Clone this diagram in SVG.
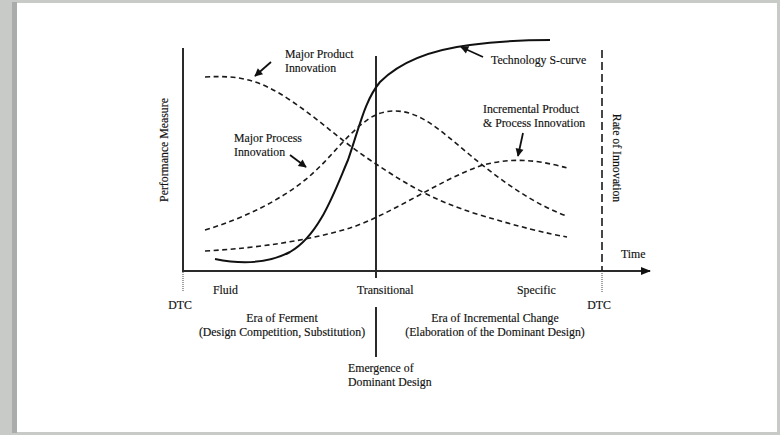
<svg xmlns="http://www.w3.org/2000/svg" width="780" height="435" viewBox="0 0 780 435">
<defs>
<marker id="ah" viewBox="0 0 10 10" refX="9" refY="5" markerWidth="8" markerHeight="8" orient="auto" markerUnits="userSpaceOnUse" overflow="visible">
<path d="M0,0 L10,5 L0,10 z" fill="#111"/>
</marker>
<marker id="axh" viewBox="0 0 10 10" refX="9" refY="5" markerWidth="10" markerHeight="10" orient="auto" markerUnits="userSpaceOnUse">
<path d="M0,1 L10,5 L0,9 z" fill="#111"/>
</marker>
<style>
text{font-family:"Liberation Serif","Times New Roman",serif;font-size:11.8px;fill:#111;stroke:#111;stroke-width:0.15}
.axis{stroke:#2a2a2a;stroke-width:2;fill:none}
.dash{stroke:#1a1a1a;stroke-width:1.6;fill:none;stroke-dasharray:5 3.5}
.dot{stroke:#444;stroke-width:1;fill:none;stroke-dasharray:1 1}
.ptr{stroke:#111;stroke-width:1.8;fill:none}
</style>
</defs>
<rect x="0" y="0" width="780" height="435" fill="#c8cac8"/>
<rect x="12" y="2" width="5" height="431" fill="#a9acaa"/>
<rect x="17" y="3" width="760" height="429" fill="#ffffff"/>

<g id="connectors">
<line class="axis" x1="183" y1="48" x2="183" y2="272"/>
<line class="axis" x1="182" y1="271" x2="650" y2="271" marker-end="url(#axh)"/>
<line class="dot" x1="183" y1="272" x2="183" y2="292"/>
<line class="axis" x1="376" y1="56" x2="376" y2="278" stroke-width="1.8"/>
<line class="axis" x1="376" y1="307" x2="376" y2="357" stroke-width="1.8"/>
<line x1="602" y1="50" x2="602" y2="271" stroke="#1a1a1a" stroke-width="1.6" stroke-dasharray="8 4"/>
<line class="dot" x1="602" y1="271" x2="602" y2="292"/>
<path id="scurve" d="M215,259 C235,263 265,265 290,252 C320,235 335,190 348,160 C360,125 365,100 380,82 C400,62 430,50 470,45 C500,41 530,40 550,40" fill="none" stroke="#111" stroke-width="2"/>
<path id="product" class="dash" d="M205,77 C240,75 260,80 290,100 C320,120 340,140 370,160 C400,180 430,200 480,215 C520,227 545,233 567,237"/>
<path id="process" class="dash" d="M205,230 C245,218 280,200 305,180 C330,160 345,135 370,118 C380,112 388,111 395,111 C420,111 440,130 470,155 C500,180 535,205 567,216"/>
<path id="incremental" class="dash" d="M205,251 C260,248 310,240 350,228 C390,215 440,180 480,166 C500,160 520,159 540,162 C552,164 560,166 567,168"/>
<line class="ptr" x1="271" y1="62" x2="255" y2="76" marker-end="url(#ah)"/>
<line class="ptr" x1="290" y1="155" x2="306" y2="167" marker-end="url(#ah)"/>
<line class="ptr" x1="483" y1="57" x2="461" y2="47" marker-end="url(#ah)"/>
<line class="ptr" x1="523" y1="133" x2="518" y2="156" marker-end="url(#ah)"/>
</g>

<g id="label-product"><text x="285" y="58">Major Product</text><text x="285" y="72">Innovation</text></g>
<g id="label-process"><text x="234" y="142">Major Process</text><text x="234" y="156">Innovation</text></g>
<g id="label-scurve"><text x="491" y="64">Technology S-curve</text></g>
<g id="label-incremental"><text x="483" y="113">Incremental Product</text><text x="483" y="127">&amp; Process Innovation</text></g>
<g id="label-y"><text transform="translate(168,150) rotate(-90)" text-anchor="middle">Performance Measure</text></g>
<g id="label-rate"><text transform="translate(613,158) rotate(90)" text-anchor="middle">Rate of Innovation</text></g>
<g id="label-time"><text x="621" y="258">Time</text></g>
<g id="label-fluid"><text x="213" y="294">Fluid</text></g>
<g id="label-transitional"><text x="357" y="294">Transitional</text></g>
<g id="label-specific"><text x="517" y="294">Specific</text></g>
<g id="label-dtc1"><text x="180" y="309" text-anchor="middle">DTC</text></g>
<g id="label-dtc2"><text x="599" y="309" text-anchor="middle">DTC</text></g>
<g id="label-ferment"><text x="282" y="322" text-anchor="middle">Era of Ferment</text><text x="282" y="336" text-anchor="middle">(Design Competition, Substitution)</text></g>
<g id="label-incchange"><text x="495" y="322" text-anchor="middle">Era of Incremental Change</text><text x="495" y="336" text-anchor="middle">(Elaboration of the Dominant Design)</text></g>
<g id="label-emergence"><text x="348" y="372">Emergence of</text><text x="348" y="386">Dominant Design</text></g>
</svg>
